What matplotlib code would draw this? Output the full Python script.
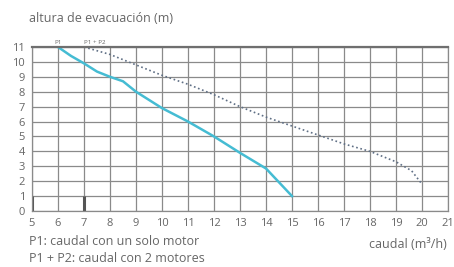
import matplotlib
matplotlib.use("Agg")
import matplotlib.pyplot as plt

plt.rcParams['font.family'] = ['Open Sans', 'DejaVu Sans']

# caudal (m3/h) vs altura (m)
p1_q = [6, 6.5, 7, 7.5, 8, 8.5, 9, 10, 11, 12, 13, 14, 15]
p1_h = [11, 10.4, 9.9, 9.35, 9.0, 8.7, 8.0, 6.9, 6.0, 5.0, 3.9, 2.85, 1.0]

p12_q = [7, 8, 9, 10, 11, 12, 13, 14, 15, 16, 17, 18, 19, 19.6, 20]
p12_h = [11, 10.5, 9.8, 9.1, 8.5, 7.8, 7.0, 6.3, 5.7, 5.1, 4.5, 4.0, 3.3, 2.7, 1.8]

x_ticks = list(range(5, 22))
y_ticks = list(range(0, 12))

grid_col = "#8a8a8a"
text_col = "#666666"

fig = plt.figure(figsize=(4.54, 2.67), dpi=100)
ax = fig.add_axes([0.0705, 0.2097, 0.9163, 0.6143])

ax.set_xlim(5, 21)
ax.set_ylim(0, 11)
ax.set_xticks(x_ticks)
ax.set_yticks(y_ticks)
ax.grid(True, color=grid_col, lw=0.9)
ax.set_axisbelow(True)
for s in ["left", "right", "bottom"]:
    ax.spines[s].set_color(grid_col)
    ax.spines[s].set_linewidth(0.9)
ax.spines["top"].set_color("#6f6f6f")
ax.spines["top"].set_linewidth(1.6)
ax.tick_params(length=0, colors=text_col, labelsize=8, pad=5)

# thick marks at the bottom for the start flows
ax.plot([5, 5], [0, 1], color="#555555", lw=2.2, solid_capstyle="butt")
ax.plot([7, 7], [0, 1], color="#555555", lw=2.2, solid_capstyle="butt")

ax.plot(p1_q, p1_h, color="#45bcd3", lw=1.8)
ax.plot(p12_q, p12_h, color="#5f6f85", lw=1.2, ls=(0, (1, 1.6)))

ax.text(6, 11.15, "P1", fontsize=4.5, color=text_col, ha="center", va="bottom")
ax.text(7.4, 11.15, "P1 + P2", fontsize=4.5, color=text_col, ha="center", va="bottom")

fig.text(0.064, 0.93, "altura de evacuación (m)", fontsize=9, color=text_col, va="center")
fig.text(0.064, 0.095, "P1: caudal con un solo motor", fontsize=9, color=text_col, va="center")
fig.text(0.064, 0.033, "P1 + P2: caudal con 2 motores", fontsize=9, color=text_col, va="center")
fig.text(0.985, 0.085, "caudal (m³/h)", fontsize=9, color=text_col, va="center", ha="right")

fig.savefig("out.png", dpi=100)
